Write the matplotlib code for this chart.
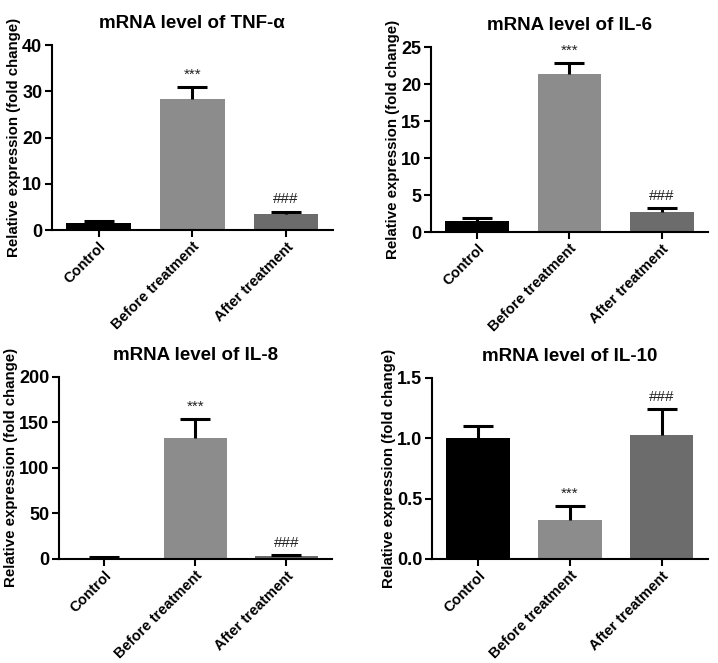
import matplotlib
matplotlib.use("Agg")
import matplotlib.pyplot as plt

plt.rcParams['font.family'] = ['Liberation Sans', 'DejaVu Sans']

groups = ['Control', 'Before treatment', 'After treatment']
colors = ['#000000', '#8c8c8c', '#6c6c6c']

titles = ['mRNA level of TNF-α', 'mRNA level of IL-6', 'mRNA level of IL-8', 'mRNA level of IL-10']

tnf_mean = [1.5, 28.3, 3.4]
tnf_err = [0.5, 2.6, 0.5]
il6_mean = [1.5, 21.3, 2.7]
il6_err = [0.4, 1.5, 0.5]
il8_mean = [1.5, 133, 3.0]
il8_err = [0.5, 21, 1.0]
il10_mean = [1.0, 0.32, 1.03]
il10_err = [0.1, 0.12, 0.21]

marks = [['', '***', '###'], ['', '***', '###'], ['', '***', '###'], ['', '***', '###']]

ylims = [40, 25, 200, 1.5]
yticks = [[0, 10, 20, 30, 40], [0, 5, 10, 15, 20, 25], [0, 50, 100, 150, 200],
          [0.0, 0.5, 1.0, 1.5]]
ytick_labels = [None, None, None, ['0.0', '0.5', '1.0', '1.5']]

means = [tnf_mean, il6_mean, il8_mean, il10_mean]
errs = [tnf_err, il6_err, il8_err, il10_err]

# axes boxes in figure fractions [left, bottom, width, height]
boxes = [[0.0724, 0.653, 0.391, 0.279],
         [0.600, 0.650, 0.386, 0.279],
         [0.082, 0.157, 0.380, 0.2745],
         [0.6017, 0.157, 0.384, 0.273]]

fig = plt.figure(figsize=(7.18, 6.63), dpi=100)

for i in range(4):
    ax = fig.add_axes(boxes[i])
    x = list(range(len(groups)))
    m = means[i]
    e = errs[i]
    tops = [m[j] + e[j] for j in x]
    ax.bar(x, m, width=0.69, color=colors, zorder=2)
    # one-sided (upper) error bars
    ax.vlines(x, m, tops, color='black', linewidth=2.2, zorder=3)
    ax.plot(x, tops, linestyle='none', marker='_', markersize=21,
            markeredgewidth=2.2, color='black', zorder=3)
    for j in x:
        if marks[i][j]:
            ax.text(j, tops[j] + ylims[i] * 0.03, marks[i][j],
                    ha='center', va='bottom', fontsize=11, color='#222222')
    ax.set_xlim(-0.5, 2.5)
    ax.set_ylim(0, ylims[i])
    ax.set_yticks(yticks[i])
    if ytick_labels[i]:
        ax.set_yticklabels(ytick_labels[i])
    ax.set_xticks(x)
    ax.set_xticklabels(groups, rotation=45, ha='right', rotation_mode='anchor',
                       fontweight='bold', fontsize=10.5)
    for lab in ax.get_yticklabels():
        lab.set_fontweight('bold')
        lab.set_fontsize(13)
    ax.spines['top'].set_visible(False)
    ax.spines['right'].set_visible(False)
    ax.spines['left'].set_linewidth(1.5)
    ax.spines['bottom'].set_linewidth(1.5)
    ax.tick_params(width=1.5, length=5, pad=2)
    ax.set_title(titles[i], fontweight='bold', fontsize=13.5, pad=12)
    ax.set_ylabel('Relative expression (fold change)', fontweight='bold',
                  fontsize=10.8, labelpad=1)

plt.savefig('out.png', dpi=100)
